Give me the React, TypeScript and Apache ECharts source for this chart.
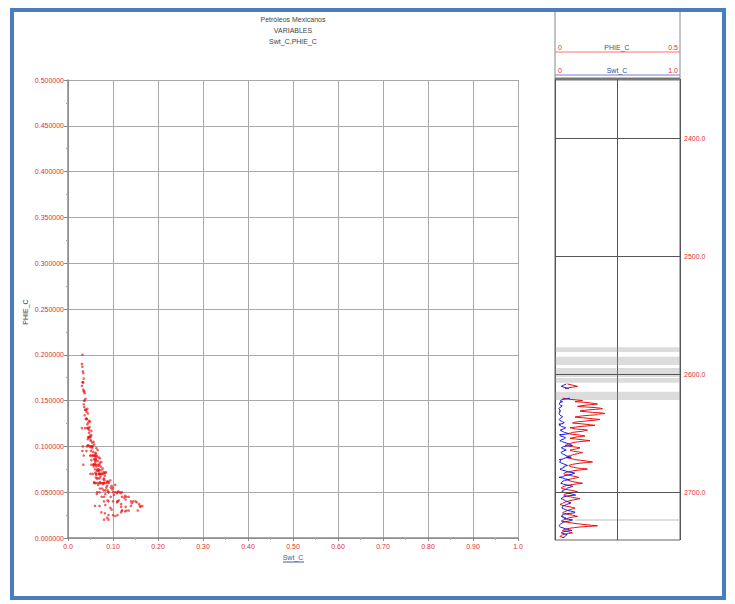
import React, { useEffect, useRef } from "react";
import * as echarts from "echarts";

const titleLines = ["Petróleos Mexicanos", "VARIABLES", "Swt_C,PHIE_C"];
const depthGrid = [2400, 2500, 2600, 2700];
const grayBands = [
  [2577, 2581],
  [2585, 2592],
  [2594.5, 2602],
  [2603, 2607],
  [2614.5, 2621.5],
];

// whole-metre samples
const depthA = [
  2608, 2609, 2610, 2611, 2612, 2616,
  2620, 2621, 2622, 2623, 2624, 2625, 2626, 2627, 2628, 2629,
  2630, 2631, 2632, 2633, 2634, 2635, 2636, 2637, 2638, 2639,
  2640, 2641, 2642, 2643, 2644, 2645, 2646, 2647, 2648, 2649,
  2650, 2651, 2652, 2653, 2654, 2655, 2656, 2657, 2658, 2659,
  2660, 2661, 2662, 2663, 2664, 2665, 2666, 2667, 2668, 2669,
  2670, 2671, 2672, 2673, 2674, 2675, 2676, 2677, 2678, 2679,
  2680, 2681, 2682, 2683, 2684, 2685, 2686, 2687, 2688, 2689,
  2690, 2691, 2692, 2693, 2694, 2695, 2696, 2697, 2698, 2699,
  2700, 2701, 2702, 2703, 2704, 2705, 2706, 2707, 2708, 2709,
  2710, 2711, 2712, 2713, 2714, 2715, 2716, 2717, 2718, 2719,
  2720, 2721, 2722, 2723, 2724, 2725, 2726, 2727, 2728, 2729,
  2730, 2731, 2732, 2733, 2734, 2735, 2736, 2737, 2738,
];

const phieA: (number | null)[] = [
  0.05, 0.07, 0.09, 0.06, 0.04, null,
  0.03, 0.06, 0.11, 0.08, 0.14, 0.17, 0.12, 0.09, 0.16, 0.19,
  0.13, 0.10, 0.15, 0.20, 0.17, 0.11, 0.08, 0.13, 0.18, 0.14,
  0.09, 0.07, 0.12, 0.16, 0.10, 0.06, 0.08, 0.13, 0.11, 0.07,
  0.05, 0.09, 0.12, 0.08, 0.06, 0.10, 0.14, 0.09, 0.065, 0.05,
  0.04, 0.07, 0.10, 0.085, 0.06, 0.075, 0.11, 0.09, 0.07, 0.055,
  0.045, 0.06, 0.08, 0.12, 0.15, 0.10, 0.07, 0.055, 0.065, 0.085,
  0.13, 0.09, 0.06, 0.04, 0.035, 0.05, 0.075, 0.095, 0.07, 0.05,
  0.06, 0.08, 0.11, 0.07, 0.045, 0.03, 0.025, 0.04, 0.065, 0.09,
  0.06, 0.045, 0.035, 0.05, 0.07, 0.10, 0.075, 0.055, 0.04, 0.03,
  0.02, 0.035, 0.06, 0.08, 0.065, 0.05, 0.04, 0.03, 0.045, 0.07,
  0.09, 0.06, 0.045, 0.035, 0.025, 0.05, 0.08, 0.12, 0.17, 0.10,
  0.06, 0.04, 0.03, 0.05, 0.07, 0.04, 0.025, 0.02, 0.035,
];

const swtA: (number | null)[] = [
  0.09, 0.07, 0.05, 0.08, 0.11, null,
  0.12, 0.07, 0.045, 0.06, 0.038, 0.034, 0.045, 0.055, 0.036, 0.031,
  0.04, 0.033, 0.037, 0.032, 0.033, 0.048, 0.062, 0.042, 0.034, 0.04,
  0.058, 0.072, 0.031, 0.035, 0.052, 0.085, 0.07, 0.041, 0.05, 0.075,
  0.11, 0.035, 0.044, 0.066, 0.078, 0.055, 0.039, 0.063, 0.08, 0.12,
  0.14, 0.068, 0.05, 0.06, 0.09, 0.065, 0.047, 0.058, 0.07, 0.095,
  0.13, 0.072, 0.034, 0.043, 0.036, 0.053, 0.078, 0.10, 0.07, 0.062,
  0.04, 0.06, 0.08, 0.15, 0.16, 0.105, 0.068, 0.032, 0.074, 0.115,
  0.066, 0.058, 0.046, 0.07, 0.12, 0.13, 0.10, 0.09, 0.064, 0.054,
  0.075, 0.135, 0.165, 0.09, 0.062, 0.048, 0.06, 0.085, 0.11, 0.12,
  0.09, 0.07, 0.058, 0.056, 0.066, 0.10, 0.145, 0.155, 0.08, 0.055,
  0.05, 0.062, 0.075, 0.14, 0.11, 0.065, 0.052, 0.038, 0.032, 0.042,
  0.06, 0.10, 0.135, 0.07, 0.05, 0.08, 0.09, 0.08, 0.06,
];

// half-metre samples
const depthB = [
  2620.5, 2621.5, 2622.5, 2623.5, 2624.5, 2625.5, 2626.5, 2627.5, 2628.5, 2629.5,
  2630.5, 2631.5, 2632.5, 2633.5, 2634.5, 2635.5, 2636.5, 2637.5, 2638.5, 2639.5,
  2640.5, 2641.5, 2642.5, 2643.5, 2644.5, 2645.5, 2646.5, 2647.5, 2648.5, 2649.5,
  2650.5, 2651.5, 2652.5, 2653.5, 2654.5, 2655.5, 2656.5, 2657.5, 2658.5, 2659.5,
  2660.5, 2661.5, 2662.5, 2663.5, 2664.5, 2665.5, 2666.5, 2667.5, 2668.5, 2669.5,
  2670.5, 2671.5, 2672.5, 2673.5, 2674.5, 2675.5, 2676.5, 2677.5, 2678.5, 2679.5,
  2680.5, 2681.5, 2682.5, 2683.5, 2684.5, 2685.5, 2686.5, 2687.5, 2688.5, 2689.5,
  2690.5, 2691.5, 2692.5, 2693.5, 2694.5, 2695.5, 2696.5, 2697.5, 2698.5, 2699.5,
  2700.5, 2701.5, 2702.5, 2703.5, 2704.5, 2705.5, 2706.5, 2707.5, 2708.5, 2709.5,
  2710.5, 2711.5, 2712.5, 2713.5, 2714.5, 2715.5, 2716.5, 2717.5, 2718.5, 2719.5,
  2720.5, 2721.5, 2722.5, 2723.5, 2724.5, 2725.5, 2726.5, 2727.5, 2728.5, 2729.5,
  2730.5, 2731.5, 2732.5, 2733.5, 2734.5, 2735.5, 2736.5, 2737.5,
];

const phieB = [
  0.045, 0.085, 0.095, 0.115, 0.158, 0.143, 0.102, 0.127, 0.182, 0.162,
  0.108, 0.124, 0.187, 0.174, 0.138, 0.093, 0.104, 0.152, 0.166, 0.117,
  0.078, 0.096, 0.141, 0.128, 0.082, 0.072, 0.105, 0.118, 0.088, 0.063,
  0.068, 0.107, 0.098, 0.072, 0.083, 0.121, 0.112, 0.076, 0.058, 0.046,
  0.053, 0.087, 0.092, 0.071, 0.067, 0.094, 0.098, 0.079, 0.062, 0.049,
  0.052, 0.073, 0.101, 0.136, 0.126, 0.084, 0.061, 0.059, 0.074, 0.106,
  0.112, 0.071, 0.049, 0.037, 0.042, 0.063, 0.086, 0.083, 0.061, 0.054,
  0.069, 0.095, 0.089, 0.057, 0.038, 0.028, 0.033, 0.052, 0.078, 0.074,
  0.051, 0.039, 0.041, 0.061, 0.086, 0.088, 0.064, 0.047, 0.034, 0.024,
  0.027, 0.048, 0.071, 0.073, 0.057, 0.044, 0.034, 0.037, 0.058, 0.081,
  0.074, 0.052, 0.039, 0.029, 0.036, 0.066, 0.101, 0.146, 0.134, 0.078,
  0.048, 0.034, 0.041, 0.061, 0.054, 0.031, 0.022, 0.028,
];

const swtB = [
  0.095, 0.052, 0.041, 0.047, 0.037, 0.036, 0.058, 0.049, 0.033, 0.034,
  0.044, 0.043, 0.032, 0.035, 0.041, 0.061, 0.054, 0.039, 0.031, 0.052,
  0.073, 0.066, 0.043, 0.047, 0.071, 0.079, 0.057, 0.047, 0.068, 0.094,
  0.082, 0.05, 0.063, 0.084, 0.074, 0.048, 0.052, 0.077, 0.105, 0.127,
  0.098, 0.071, 0.062, 0.081, 0.072, 0.056, 0.053, 0.068, 0.088, 0.117,
  0.083, 0.064, 0.045, 0.044, 0.045, 0.066, 0.091, 0.078, 0.074, 0.051,
  0.049, 0.083, 0.109, 0.158, 0.128, 0.081, 0.062, 0.061, 0.087, 0.076,
  0.063, 0.051, 0.064, 0.097, 0.142, 0.118, 0.094, 0.079, 0.063, 0.069,
  0.112, 0.153, 0.113, 0.071, 0.058, 0.061, 0.079, 0.102, 0.128, 0.105,
  0.082, 0.064, 0.061, 0.068, 0.087, 0.125, 0.161, 0.118, 0.067, 0.059,
  0.067, 0.088, 0.109, 0.127, 0.083, 0.062, 0.044, 0.035, 0.037, 0.057,
  0.083, 0.118, 0.088, 0.058, 0.071, 0.097, 0.087, 0.074,
];

const FONT = "Liberation Sans";

export default function App() {
  const ref = useRef<HTMLDivElement>(null);

  useEffect(() => {
    if (!ref.current) return;
    const chart = echarts.init(ref.current, null, { renderer: "svg" });

    type Sample = { d: number; p: number | null; s: number | null };
    const samples: Sample[] = [];
    depthA.forEach((d, i) => samples.push({ d, p: phieA[i], s: swtA[i] }));
    depthB.forEach((d, i) => samples.push({ d, p: phieB[i], s: swtB[i] }));
    samples.sort((a, b) => a.d - b.d);

    const crossData: number[][] = [];
    samples.forEach((o) => {
      if (o.p != null && o.s != null) crossData.push([o.s, o.p]);
    });
    const phieLog = samples.map((o) => [o.p == null ? NaN : o.p, o.d]);
    const swtLog = samples.map((o) => [o.s == null ? NaN : o.s, o.d]);

    const txt = (x: number, y: number, text: string, fill: string, align = "center", size = 7) => ({
      type: "text",
      x,
      y,
      silent: true,
      style: { text, fill, fontSize: size, fontFamily: FONT, align, verticalAlign: "middle" },
    });
    const ln = (x1: number, y1: number, x2: number, y2: number, stroke: string, w = 1) => ({
      type: "line",
      silent: true,
      shape: { x1, y1, x2, y2 },
      style: { stroke, lineWidth: w },
    });

    const option: any = {
      animation: false,
      backgroundColor: "#ffffff",
      grid: [
        { left: 68, top: 80, width: 450, height: 458 },
        { left: 555, top: 79, width: 125, height: 461, show: true, borderColor: "#666", borderWidth: 1 },
      ],
      xAxis: [
        {
          type: "value",
          gridIndex: 0,
          min: 0,
          max: 1,
          interval: 0.1,
          axisLine: { show: true, lineStyle: { color: "#888", width: 1.5 } },
          axisTick: { show: true, length: 3, lineStyle: { color: "#888" } },
          minorTick: { show: true, splitNumber: 2, length: 2, lineStyle: { color: "#aaa" } },
          splitLine: { show: true, lineStyle: { color: "#aaa", width: 1 } },
          axisLabel: {
            color: "#e03030",
            fontSize: 7,
            fontFamily: FONT,
            margin: 5,
            formatter: (v: number) => (v === 0 || v === 1 ? v.toFixed(1) : v.toFixed(2)),
          },
        },
        {
          type: "value",
          gridIndex: 1,
          min: 0,
          max: 0.5,
          interval: 0.25,
          axisLine: { show: false },
          axisTick: { show: false },
          axisLabel: { show: false },
          splitLine: { show: true, lineStyle: { color: "#555", width: 1 } },
        },
        {
          type: "value",
          gridIndex: 1,
          min: 0,
          max: 1,
          show: false,
          splitLine: { show: false },
        },
      ],
      yAxis: [
        {
          type: "value",
          gridIndex: 0,
          min: 0,
          max: 0.5,
          interval: 0.05,
          axisLine: { show: true, lineStyle: { color: "#888", width: 1.5 } },
          axisTick: { show: true, length: 4, lineStyle: { color: "#888" } },
          minorTick: { show: true, splitNumber: 2, length: 2, lineStyle: { color: "#aaa" } },
          splitLine: { show: true, lineStyle: { color: "#aaa", width: 1 } },
          axisLabel: {
            color: "#e03030",
            fontSize: 7,
            fontFamily: FONT,
            margin: 4,
            formatter: (v: number) => v.toFixed(6),
          },
        },
        {
          type: "value",
          gridIndex: 1,
          min: 2350,
          max: 2740,
          inverse: true,
          axisLine: { show: false },
          axisTick: { show: false },
          axisLabel: { show: false },
          splitLine: { show: false },
        },
      ],
      series: [
        {
          type: "scatter",
          xAxisIndex: 0,
          yAxisIndex: 0,
          data: crossData,
          symbol: "circle",
          symbolSize: 2.6,
          itemStyle: { color: "rgba(235,20,20,0.85)" },
          silent: true,
        },
        {
          type: "line",
          xAxisIndex: 1,
          yAxisIndex: 1,
          data: phieLog,
          showSymbol: false,
          connectNulls: false,
          lineStyle: { color: "#e81010", width: 1 },
          silent: true,
          markArea: {
            silent: true,
            itemStyle: { color: "rgba(150,150,150,0.33)" },
            data: grayBands.map((b) => [{ yAxis: b[0] }, { yAxis: b[1] }]),
          },
          markLine: {
            silent: true,
            symbol: ["none", "none"],
            lineStyle: { color: "#555", width: 1, type: "solid" },
            label: {
              show: true,
              position: "end",
              distance: 4,
              color: "#e03030",
              fontSize: 7,
              fontFamily: FONT,
              formatter: (p: any) => Number(p.value).toFixed(1),
            },
            data: depthGrid.map((d) => ({ yAxis: d })),
          },
        },
        {
          type: "line",
          xAxisIndex: 2,
          yAxisIndex: 1,
          data: swtLog,
          showSymbol: false,
          connectNulls: false,
          lineStyle: { color: "#1a1ae0", width: 1 },
          silent: true,
        },
      ],
      graphic: [
        {
          type: "rect",
          silent: true,
          shape: { x: 12, y: 10, width: 712, height: 588 },
          style: { fill: "none", stroke: "#4a7dc0", lineWidth: 4 },
        },
        txt(293, 19, titleLines[0], "#444"),
        txt(293, 30, titleLines[1], "#444"),
        txt(293, 41, titleLines[2], "#444"),
        {
          type: "text",
          x: 25,
          y: 312,
          rotation: Math.PI / 2,
          silent: true,
          style: { text: "PHIE_C", fill: "#444", fontSize: 7, fontFamily: FONT, align: "center", verticalAlign: "middle" },
        },
        txt(293, 557, "Swt_C", "#4a5a9a"),
        ln(283, 562, 304, 562, "#4a5a9a", 1),
        ln(555, 12, 555, 79, "#888", 1),
        ln(680, 12, 680, 79, "#888", 1),
        ln(555, 52, 680, 52, "#ff7070", 1),
        txt(558, 47, "0", "#e03030", "left"),
        txt(678, 47, "0.5", "#e03030", "right"),
        txt(617, 47, "PHIE_C", "#555"),
        ln(555, 75, 680, 75, "#7080d0", 1),
        txt(558, 70, "0", "#e03030", "left"),
        txt(678, 70, "1.0", "#e03030", "right"),
        txt(617, 70, "Swt_C", "#3a4a8a"),
        ln(555, 79, 680, 79, "#777", 3),
        ln(575, 520, 680, 520, "#bbb", 1),
      ],
    };

    chart.setOption(option);
    return () => chart.dispose();
  }, []);

  return (
    <div
      ref={ref}
      style={{ position: "fixed", left: 0, top: 0, width: 735, height: 604, background: "#fff" }}
    />
  );
}
